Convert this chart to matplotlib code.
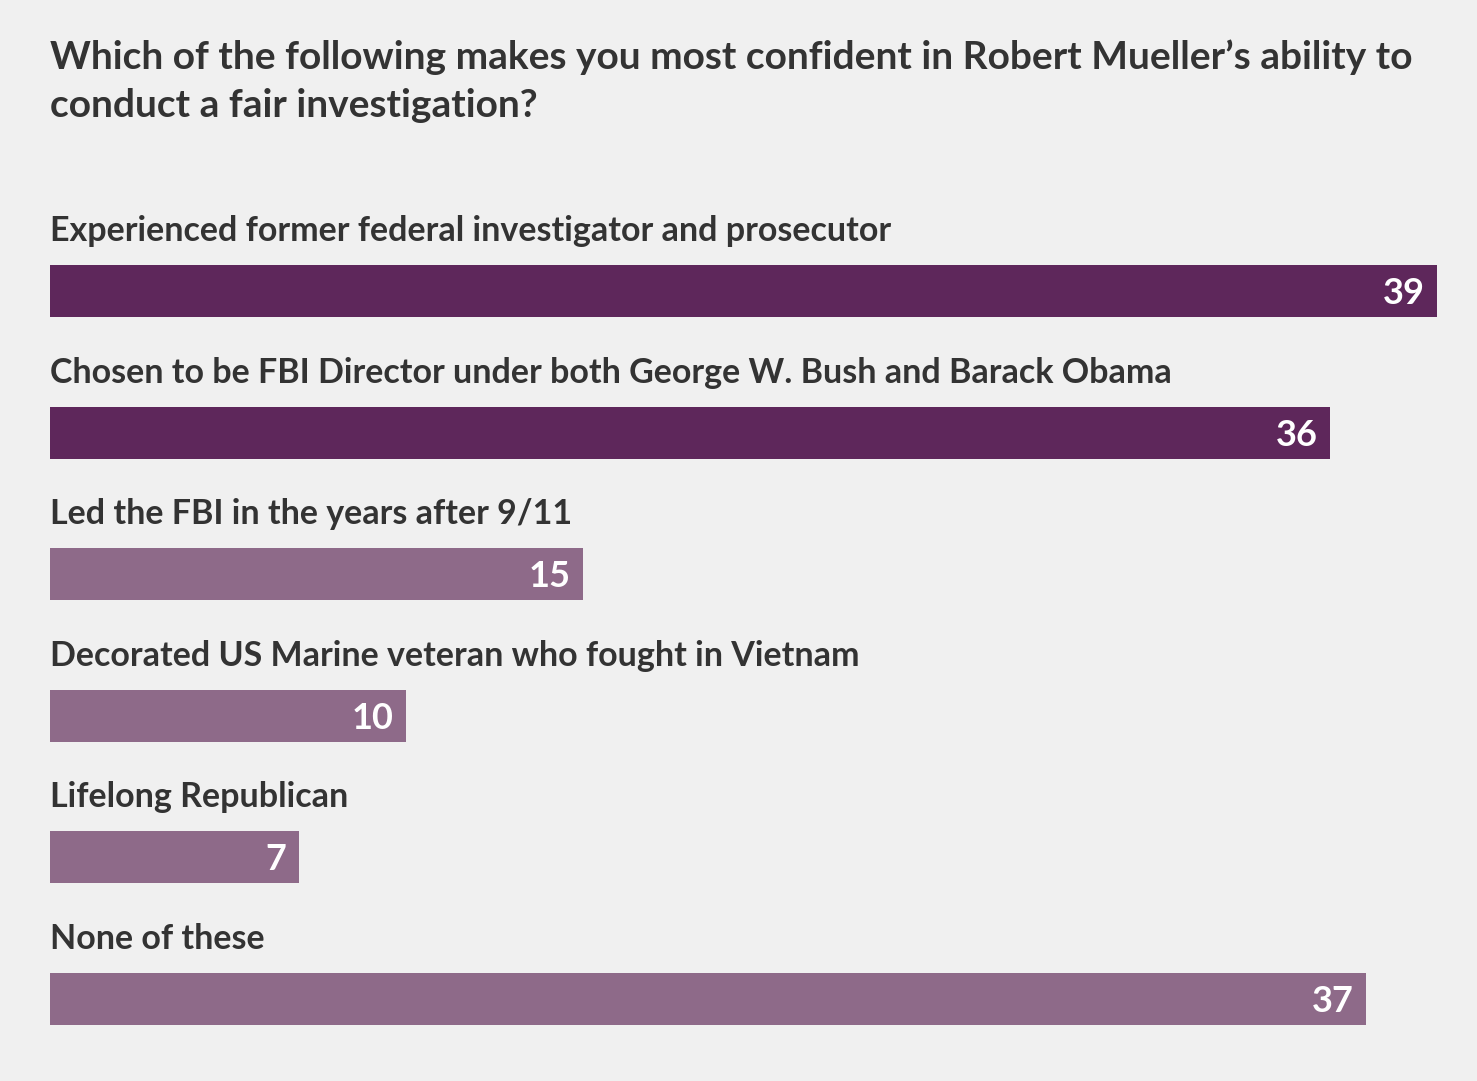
import matplotlib.pyplot as plt

labels = [
    "Experienced former federal investigator and prosecutor",
    "Chosen to be FBI Director under both George W. Bush and Barack Obama",
    "Led the FBI in the years after 9/11",
    "Decorated US Marine veteran who fought in Vietnam",
    "Lifelong Republican",
    "None of these",
]
values = [39, 36, 15, 10, 7, 37]
colors = ["#5E275B", "#5E275B", "#8E6A89", "#8E6A89", "#8E6A89", "#8E6A89"]
title = "Which of the following makes you most confident in Robert Mueller\u2019s ability to\nconduct a fair investigation?"

W, H = 1477, 1081
bg = "#F0F0F0"
txt = "#333333"
plt.rcParams['font.family'] = ['Lato', 'DejaVu Sans']

fig = plt.figure(figsize=(W / 100, H / 100), dpi=100, facecolor=bg)
# axes: x in data units, y in pixel rows (top = 0)
ax = fig.add_axes([50 / W, 0, 1387 / W, 1], facecolor=bg)
ax.set_xlim(0, 39)
ax.set_ylim(H, 0)
ax.axis('off')

step = 141.6
first = 291
ys = [first + i * step for i in range(len(values))]
ax.barh(ys, values, height=52, color=colors, left=0)

for y, lab, v in zip(ys, labels, values):
    ax.text(0, y - 50, lab, ha='left', va='baseline', fontsize=24.5,
            fontweight='bold', color=txt)
    ax.text(v - 0.35, y + 13, str(v), ha='right', va='baseline', fontsize=26,
            fontweight='bold', color='white')

# baseline of the last title line
fig.text(50 / W, 1 - 117 / H, title, ha='left', va='baseline', fontsize=28,
         fontweight='bold', color=txt, linespacing=1.45)

fig.savefig('out.png', dpi=100, facecolor=bg)
